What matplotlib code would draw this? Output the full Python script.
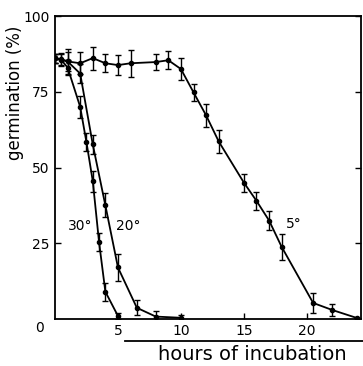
import matplotlib
matplotlib.use('Agg')
import matplotlib.pyplot as plt

# germination (%) vs hours of incubation at three temperatures
hours_5 = [0, 0.5, 1, 2, 3, 4, 5, 6, 8, 9, 10, 11, 12, 13, 15, 16, 17, 18, 20.5, 22, 24]
germ_5 = [86, 85.8, 85, 84.4, 86.1, 84.4, 83.8, 84.4, 84.8, 85.4, 82.5, 74.8, 67.2, 58.6,
          45, 39, 32.5, 23.8, 5.3, 3, 0.3]
err_5 = [1.5, 2, 4, 3.6, 3.8, 2.9, 3.3, 4.4, 2.5, 3, 3.7, 2.8, 3.7, 3.7,
         3, 3, 3, 4.4, 3.3, 2, 0]

hours_20 = [0, 1, 2, 3, 4, 5, 6.5, 8, 10]
germ_20 = [86, 85, 81, 57.6, 37.5, 17, 3.7, 0.8, 0.4]
err_20 = [1.5, 3, 3, 3, 4, 4.4, 2.5, 2, 1]

hours_30 = [0, 0.5, 1, 2, 2.5, 3, 3.5, 4, 5]
germ_30 = [86, 85.5, 83, 70, 58.3, 45.5, 25.3, 9, 1]
err_30 = [1.5, 2, 2.5, 3.5, 3, 3.5, 3, 3, 1]

plt.rcParams['font.family'] = ['DejaVu Sans']

fig = plt.figure(figsize=(3.63, 3.66), dpi=100)
ax = fig.add_axes([55 / 363, 47 / 366, 306 / 363, 303 / 366])

for h, g, e in [(hours_5, germ_5, err_5), (hours_20, germ_20, err_20), (hours_30, germ_30, err_30)]:
    ax.errorbar(h, g, yerr=e, color='black', lw=1.3, marker='o', ms=3,
                capsize=2.2, elinewidth=1, capthick=1)

ax.set_xlim(0, 24.3)
ax.set_ylim(0, 100)
ax.set_xticks([5, 10, 15, 20])
ax.set_yticks([25, 50, 75, 100])
ax.tick_params(direction='in', length=4, width=1, labelsize=10, right=True)
ax.tick_params(axis='y', pad=4)
for s in ax.spines.values():
    s.set_linewidth(1.3)

fig.text(40 / 363, 1 - 328 / 366, '0', ha='center', va='center', fontsize=10)
fig.text(15 / 363, 1 - 93 / 366, 'germination (%)', rotation=90,
         ha='center', va='center', fontsize=12)

ax.text(2.0, 30.8, '30°', fontsize=10, ha='center', va='center')
ax.text(5.8, 30.8, '20°', fontsize=10, ha='center', va='center')
ax.text(19.0, 31.5, '5°', fontsize=10, ha='center', va='center')

# rule and label under the x axis
fig.add_artist(plt.Line2D([125 / 363, 1.0], [25 / 366, 25 / 366], color='black', lw=1.3))
fig.text(252 / 363, 1 - 355 / 366, 'hours of incubation', fontsize=14, ha='center', va='center')

fig.savefig('out.png', dpi=100)
